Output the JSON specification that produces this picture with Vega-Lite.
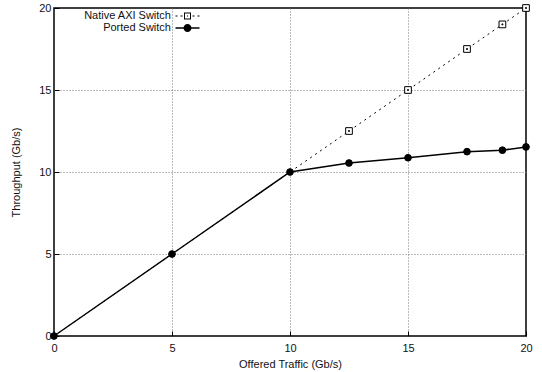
{
  "$schema": "https://vega.github.io/schema/vega-lite/v6.json",
  "width": 472,
  "height": 328,
  "autosize": {"type": "none"},
  "padding": {"left": 54, "top": 8, "right": 16, "bottom": 36},
  "background": "white",
  "config": {
    "font": "Liberation Sans",
    "view": {"stroke": "black", "strokeWidth": 1.5},
    "axis": {
      "grid": true,
      "gridDash": [1, 2],
      "gridColor": "#777",
      "gridWidth": 1,
      "domain": false,
      "ticks": true,
      "tickSize": -5,
      "tickColor": "black",
      "tickWidth": 1,
      "labelFontSize": 11,
      "labelColor": "#111",
      "titleFontSize": 11,
      "titleFontWeight": "normal",
      "titleColor": "#111",
      "labelFlush": false
    }
  },
  "data": {
    "values": [
      {"series": "Native AXI Switch", "x": 0, "y": 0},
      {"series": "Native AXI Switch", "x": 5, "y": 5},
      {"series": "Native AXI Switch", "x": 10, "y": 10},
      {"series": "Native AXI Switch", "x": 12.5, "y": 12.5},
      {"series": "Native AXI Switch", "x": 15, "y": 15},
      {"series": "Native AXI Switch", "x": 17.5, "y": 17.5},
      {"series": "Native AXI Switch", "x": 19, "y": 19},
      {"series": "Native AXI Switch", "x": 20, "y": 20},
      {"series": "Ported Switch", "x": 0, "y": 0},
      {"series": "Ported Switch", "x": 5, "y": 5},
      {"series": "Ported Switch", "x": 10, "y": 10},
      {"series": "Ported Switch", "x": 12.5, "y": 10.55},
      {"series": "Ported Switch", "x": 15, "y": 10.87},
      {"series": "Ported Switch", "x": 17.5, "y": 11.24},
      {"series": "Ported Switch", "x": 19, "y": 11.33},
      {"series": "Ported Switch", "x": 20, "y": 11.53}
    ]
  },
  "encoding": {
    "x": {
      "field": "x",
      "type": "quantitative",
      "scale": {"domain": [0, 20], "nice": false},
      "axis": {
        "title": "Offered Traffic (Gb/s)",
        "values": [0, 5, 10, 15, 20],
        "labelPadding": 11,
        "titlePadding": 5,
        "gridOpacity": {"condition": {"test": "datum.value == 0 || datum.value == 20", "value": 0}, "value": 1}
      }
    },
    "y": {
      "field": "y",
      "type": "quantitative",
      "scale": {"domain": [0, 20], "nice": false},
      "axis": {
        "title": "Throughput (Gb/s)",
        "values": [0, 5, 10, 15, 20],
        "labelPadding": 8,
        "titlePadding": 17,
        "gridOpacity": {"condition": {"test": "datum.value == 0 || datum.value == 20", "value": 0}, "value": 1}
      }
    }
  },
  "layer": [
    {
      "transform": [{"filter": "datum.series == 'Native AXI Switch'"}],
      "mark": {"type": "line", "color": "black", "strokeWidth": 1, "strokeDash": [2, 4]},
      "encoding": {}
    },
    {
      "transform": [{"filter": "datum.series == 'Ported Switch'"}],
      "mark": {"type": "line", "color": "black", "strokeWidth": 1.5},
      "encoding": {}
    },
    {
      "transform": [{"filter": "datum.series == 'Ported Switch' || datum.x > 10"}],
      "mark": {"type": "point", "size": 45, "opacity": 1, "stroke": "black", "strokeWidth": 1},
      "encoding": {
        "fill": {"condition": {"test": "datum.series == 'Ported Switch'", "value": "black"}, "value": "white"},
        "shape": {
          "field": "series",
          "type": "nominal",
          "scale": {
            "domain": ["Native AXI Switch", "Ported Switch"],
            "range": ["M-1,-1H1V1H-1ZM-0.15,-0.15H0.15V0.15H-0.15Z", "circle"]
          },
          "legend": null
        }
      }
    },
    {
      "mark": {"type": "point", "filled": true, "color": "black", "opacity": 0, "size": 81},
      "encoding": {
        "shape": {
          "field": "series",
          "type": "nominal",
          "scale": {
            "domain": ["Native AXI Switch", "Ported Switch"],
            "range": [
              "M-2.67,-0.11H-2.22V0.11H-2.67ZM-1.56,-0.11H-1.11V0.11H-1.56ZM1.11,-0.11H1.56V0.11H1.11ZM2.22,-0.11H2.67V0.11H2.22ZM-0.78,-0.78H0.78V0.78H-0.78ZM-0.56,-0.56V0.56H0.56V-0.56ZM-0.12,-0.12H0.12V0.12H-0.12Z",
              "M-2.67,-0.17H2.67V0.17H-2.67ZM-0.89,0A0.89,0.89,0,1,1,0.89,0A0.89,0.89,0,1,1,-0.89,0Z"
            ]
          },
          "legend": {
            "orient": "none",
            "legendX": 128,
            "legendY": 2.5,
            "title": null,
            "padding": 0,
            "rowPadding": 0,
            "symbolSize": 81,
            "symbolOffset": 0,
            "symbolOpacity": 1,
            "symbolFillColor": "black",
            "symbolStrokeWidth": 0,
            "labelAlign": "right",
            "labelOffset": -22,
            "labelFontSize": 11,
            "labelColor": "#111"
          }
        }
      }
    }
  ],
  "resolve": {"scale": {"shape": "independent"}}
}
